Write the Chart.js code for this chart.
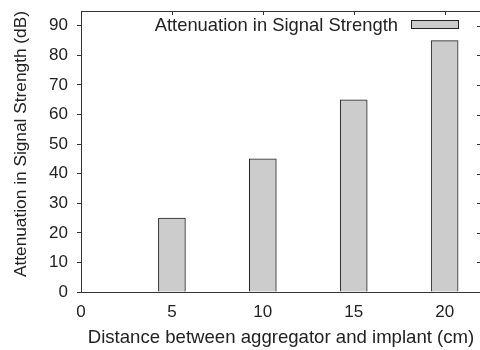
<!DOCTYPE html>
<html>
<head>
<meta charset="utf-8">
<script src="https://cdn.jsdelivr.net/npm/chart.js@4.4.1/dist/chart.umd.min.js"></script>
<style>
  html, body { margin: 0; padding: 0; background: #fff; overflow: hidden; }
  canvas { display: block; }
</style>
</head>
<body>
<canvas id="attenChart" width="484" height="350"></canvas>
<script>
// datos
const distances = [5, 10, 15, 20];
const attenuation = [25, 45, 65, 85];
const seriesLabel = 'Attenuation in Signal Strength';
const xTitle = 'Distance between aggregator and implant (cm)';
const yTitle = 'Attenuation in Signal Strength (dB)';

Chart.defaults.font.family = "'Liberation Sans', Arial, sans-serif";
Chart.defaults.color = '#222';

// ticks espejo arriba y a la derecha, y borde superior
const mirrorTicks = {
    id: 'mirrorTicks',
    afterDraw(chart) {
        const { ctx, chartArea } = chart;
        const xs = chart.scales.x;
        const ys = chart.scales.y;
        ctx.save();
        ctx.strokeStyle = '#333';
        ctx.lineWidth = 1;
        ctx.beginPath();
        ctx.moveTo(chartArea.left, chartArea.top + 0.5);
        ctx.lineTo(chartArea.right, chartArea.top + 0.5);
        ctx.moveTo(chartArea.right - 0.5, chartArea.top);
        ctx.lineTo(chartArea.right - 0.5, chartArea.bottom);
        xs.ticks.forEach(t => {
            const px = Math.round(xs.getPixelForValue(t.value)) + 0.5;
            ctx.moveTo(px, chartArea.top);
            ctx.lineTo(px, chartArea.top + 4);
        });
        ys.ticks.forEach(t => {
            const py = Math.round(ys.getPixelForValue(t.value)) + 0.5;
            ctx.moveTo(chartArea.right, py);
            ctx.lineTo(chartArea.right - 4, py);
        });
        ctx.stroke();
        ctx.restore();
    }
};

// leyenda estilo gnuplot: texto y luego la caja, dentro del area
const insideLegend = {
    id: 'insideLegend',
    afterDraw(chart) {
        const { ctx, chartArea } = chart;
        const ds = chart.data.datasets[0];
        const boxW = 48, boxH = 9;
        const boxRight = chartArea.right - 22;
        const boxTop = chartArea.top + 9;
        ctx.save();
        ctx.fillStyle = ds.backgroundColor;
        ctx.fillRect(boxRight - boxW, boxTop, boxW, boxH);
        ctx.strokeStyle = ds.borderColor;
        ctx.lineWidth = 1;
        ctx.strokeRect(boxRight - boxW + 0.5, boxTop + 0.5, boxW - 1, boxH - 1);
        ctx.fillStyle = '#222';
        ctx.font = "18.4px 'Liberation Sans', Arial, sans-serif";
        ctx.textAlign = 'right';
        ctx.textBaseline = 'middle';
        ctx.fillText(ds.label, boxRight - boxW - 13, boxTop + boxH / 2 + 1);
        ctx.restore();
    }
};

const ctx = document.getElementById('attenChart').getContext('2d');
new Chart(ctx, {
    type: 'bar',
    data: {
        datasets: [{
            label: seriesLabel,
            data: distances.map((d, i) => ({ x: d, y: attenuation[i] })),
            backgroundColor: '#cccccc',
            borderColor: '#222',
            borderWidth: 1,
            barThickness: 27
        }]
    },
    options: {
        responsive: false,
        animation: false,
        layout: {
            padding: { top: 11, right: 3, left: 0, bottom: 0 }
        },
        scales: {
            x: {
                type: 'linear',
                offset: false,
                min: 0,
                max: 22,
                grid: { display: true, drawOnChartArea: false, drawTicks: false, color: '#333' },
                border: { display: true, color: '#333', width: 1 },
                ticks: {
                    stepSize: 5,
                    includeBounds: false,
                    padding: 10,
                    font: { size: 17 },
                    color: '#222'
                },
                title: {
                    display: true,
                    text: xTitle,
                    font: { size: 18.6 },
                    color: '#222',
                    padding: { top: 0, bottom: 1 }
                },
                afterFit(scale) {
                    scale.height = 58;
                    scale.paddingLeft = 0;
                    scale.paddingRight = 0;
                }
            },
            y: {
                min: 0,
                max: 95,
                grid: { display: true, drawOnChartArea: false, drawTicks: true, tickLength: 4, color: '#333' },
                border: { display: true, color: '#333', width: 1 },
                ticks: {
                    stepSize: 10,
                    includeBounds: false,
                    padding: 9,
                    font: { size: 17 },
                    color: '#222'
                },
                title: {
                    display: true,
                    text: yTitle,
                    align: 'end',
                    font: { size: 17.3 },
                    color: '#222',
                    padding: { top: 11, bottom: 0 }
                },
                afterFit(scale) {
                    scale.width = 81;
                    scale.paddingTop = 0;
                    scale.paddingBottom = 0;
                }
            }
        },
        plugins: {
            legend: { display: false },
            tooltip: { enabled: false }
        }
    },
    plugins: [mirrorTicks, insideLegend]
});
</script>
</body>
</html>
